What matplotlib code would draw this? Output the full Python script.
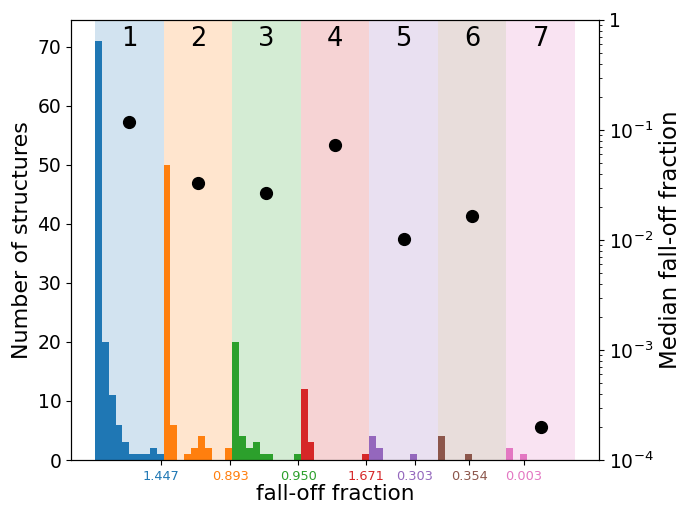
import matplotlib
matplotlib.use("Agg")
import matplotlib.pyplot as plt
import numpy as np

# histogram counts per group, 10 bins of width 0.1 in each group
counts = [
    [71, 20, 11, 6, 3, 1, 1, 1, 2, 1],
    [50, 6, 0, 1, 2, 4, 2, 0, 0, 2],
    [20, 4, 2, 3, 1, 1, 0, 0, 0, 1],
    [12, 3, 0, 0, 0, 0, 0, 0, 0, 1],
    [4, 2, 0, 0, 0, 0, 1, 0, 0, 0],
    [4, 0, 0, 0, 1, 0, 0, 0, 0, 0],
    [2, 0, 1, 0, 0, 0, 0, 0, 0, 0],
]
group_names = ["1", "2", "3", "4", "5", "6", "7"]
medians = [0.1175, 0.0327, 0.0267, 0.0731, 0.0102, 0.0165, 0.000201]
max_pos = [0.963, 1.969, 2.965, 3.952, 4.667, 5.459, 6.256]
max_labels = ["1.447", "0.893", "0.950", "1.671", "0.303", "0.354", "0.003"]
colors = ["tab:blue", "tab:orange", "tab:green", "tab:red",
          "tab:purple", "tab:brown", "tab:pink"]

fig = plt.figure(figsize=(6.81, 5.05), dpi=100)
ax = fig.add_subplot(111)
fig.subplots_adjust(left=0.1043, right=0.8796, top=0.9604, bottom=0.0891)

edges = np.arange(10) * 0.1
for i, c in enumerate(counts):
    ax.axvspan(i, i + 1, color=colors[i], alpha=0.2, lw=0)
    ax.bar(i + edges, c, width=0.1, align="edge", color=colors[i], lw=0)
    ax.text(i + 0.5, 71.3, group_names[i], ha="center", va="center", fontsize=18.5)

ax.set_xlim(-0.35, 7.35)
ax.set_ylim(0, 74.55)
ax.set_xticks(max_pos)
ax.set_xticklabels(max_labels, fontsize=9.3)
for lab, c in zip(ax.get_xticklabels(), colors):
    lab.set_color(c)
ax.tick_params(axis="y", labelsize=13.5)
ax.set_xlabel("fall-off fraction", fontsize=15.5, labelpad=1)
ax.set_ylabel("Number of structures", fontsize=16)

ax2 = ax.twinx()
ax2.set_yscale("log")
ax2.plot(np.arange(7) + 0.5, medians, "o", color="black", ms=8.5)
ax2.set_ylim(1e-4, 1)
ax2.set_yticks([1e-4, 1e-3, 1e-2, 1e-1, 1])
ax2.set_yticklabels([r"$10^{-4}$", r"$10^{-3}$", r"$10^{-2}$", r"$10^{-1}$", "1"])
ax2.tick_params(axis="y", labelsize=13.5)
ax2.set_ylabel("Median fall-off fraction", fontsize=16.5)

fig.savefig("out.png", dpi=100)
